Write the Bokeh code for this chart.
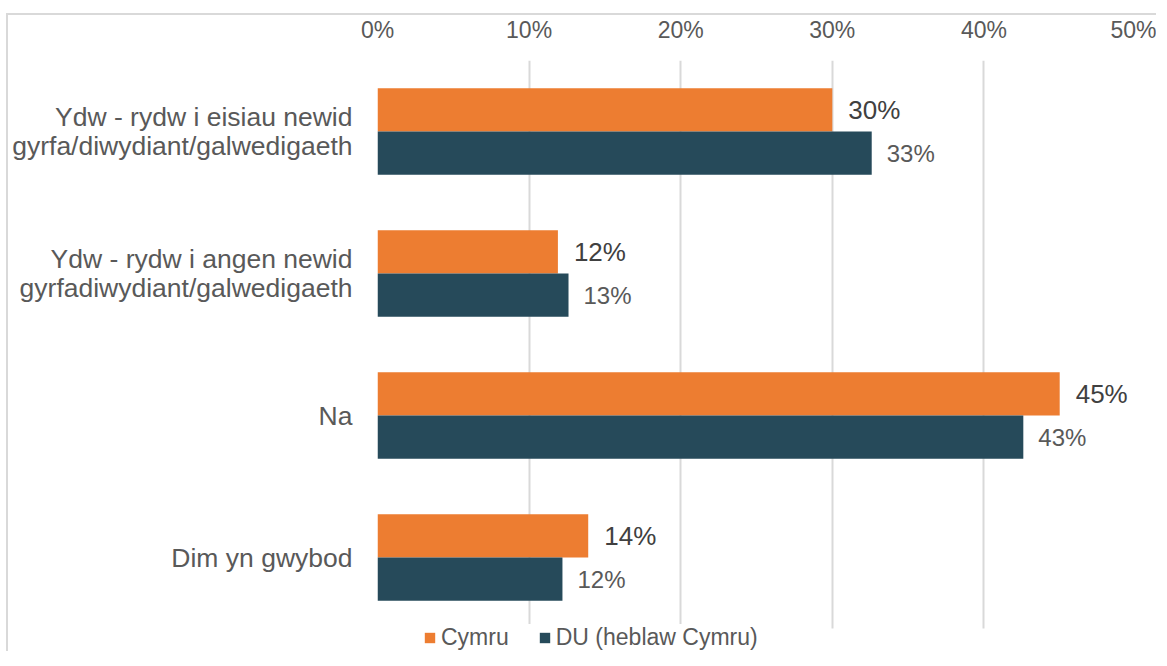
from bokeh.plotting import figure
from bokeh.models import (ColumnDataSource, Range1d, FixedTicker, BoxAnnotation,
                          PrintfTickFormatter, Legend, LegendItem)
from bokeh.core.properties import value
from bokeh.embed import file_html
from bokeh.resources import INLINE

categories = [
    "Ydw - rydw i eisiau newid\ngyrfa/diwydiant/galwedigaeth",
    "Ydw - rydw i angen newid\ngyrfadiwydiant/galwedigaeth",
    "Na",
    "Dim yn gwybod",
]
cymru = [30.0, 11.9, 45.0, 13.9]
du = [32.6, 12.6, 42.6, 12.2]
series_names = ["Cymru", "DU (heblaw Cymru)"]
x_ticks = [0, 10, 20, 30, 40, 50]

C_ORANGE = "#ED7D31"
C_DARK = "#264A5A"
FONT = "Liberation Sans"

# layout (pixels)
W, H = 1156, 651
BORDER_TOP, BORDER_LEFT, BORDER_RIGHT = 60, 377, 21
BAND_PX = 142            # height of one category band
STRIP_PX = H - BORDER_TOP - BAND_PX * len(categories)   # legend strip below the grid

n = len(categories)
ypos = [n - 1 - i for i in range(n)]   # first category on top
bw = 0.305

src = ColumnDataSource(dict(
    y_c=[y + bw / 2 for y in ypos],
    y_d=[y - bw / 2 for y in ypos],
    cymru=cymru,
    du=du,
    cymru_lbl=[f"{v:.0f}%" for v in cymru],
    du_lbl=[f"{v:.0f}%" for v in du],
))

p = figure(
    width=W, height=H,
    x_range=Range1d(0, 50),
    y_range=Range1d(-0.5 - STRIP_PX / BAND_PX, n - 0.5),
    x_axis_location="above",
    output_backend="svg", toolbar_location=None,
    min_border_left=BORDER_LEFT, min_border_right=BORDER_RIGHT, min_border_top=BORDER_TOP,
    min_border_bottom=0,
)
p.outline_line_color = None
p.border_fill_alpha = 0
p.background_fill_alpha = 0
p.styles = {
    "background": ("linear-gradient(#d9d9d9,#d9d9d9) 6px 13px / 100% 2px no-repeat, "
                   "linear-gradient(#d9d9d9,#d9d9d9) 6px 13px / 2px 100% no-repeat, white"),
}

r1 = p.hbar(y="y_c", right="cymru", left=0, height=bw, source=src,
            fill_color=C_ORANGE, line_color=None)
r2 = p.hbar(y="y_d", right="du", left=0, height=bw, source=src,
            fill_color=C_DARK, line_color=None)

p.text(x="cymru", y="y_c", text="cymru_lbl", source=src,
       x_offset=16, text_align="left", text_baseline="middle",
       text_font_size="26px", text_color="#404040", text_font=value(FONT))
p.text(x="du", y="y_d", text="du_lbl", source=src,
       x_offset=15, text_align="left", text_baseline="middle",
       text_font_size="24px", text_color="#595959", text_font=value(FONT))

# x axis (top)
xa = p.xaxis[0]
xa.ticker = FixedTicker(ticks=x_ticks)
xa.formatter = PrintfTickFormatter(format="%d%%")
xa.axis_line_color = None
xa.major_tick_line_color = None
xa.minor_tick_line_color = None
xa.major_label_text_font = FONT
xa.major_label_text_font_size = "23px"
xa.major_label_text_color = "#595959"
xa.major_label_standoff = 12

# y axis (categories)
ya = p.yaxis[0]
ya.ticker = FixedTicker(ticks=ypos)
ya.major_label_overrides = {y: c for y, c in zip(ypos, categories)}
ya.axis_line_color = None
ya.major_tick_line_color = None
ya.major_tick_out = 0
ya.minor_tick_line_color = None
ya.major_label_text_font = FONT
ya.major_label_text_font_size = "26.5px"
ya.major_label_text_line_height = 0.95
ya.major_label_text_color = "#595959"
ya.major_label_standoff = 25

p.xgrid.grid_line_color = "#d9d9d9"
p.xgrid.grid_line_width = 2
p.xgrid.ticker = FixedTicker(ticks=x_ticks)
p.ygrid.grid_line_color = None

# white strip that stops the grid lines above the legend
p.add_layout(BoxAnnotation(top=-0.5, fill_color="white", fill_alpha=1, line_alpha=0))

legend = Legend(
    items=[LegendItem(label=series_names[0], renderers=[r1]),
           LegendItem(label=series_names[1], renderers=[r2])],
    orientation="horizontal", location=(46, 0),
    label_text_font=FONT, label_text_font_size="23px", label_text_color="#595959",
    glyph_width=13, glyph_height=13, label_standoff=5, spacing=29,
    padding=0, margin=0, border_line_color=None,
    background_fill_color="white", background_fill_alpha=1,
)
p.add_layout(legend, "center")

open("out.html", "w").write(file_html(p, INLINE))
